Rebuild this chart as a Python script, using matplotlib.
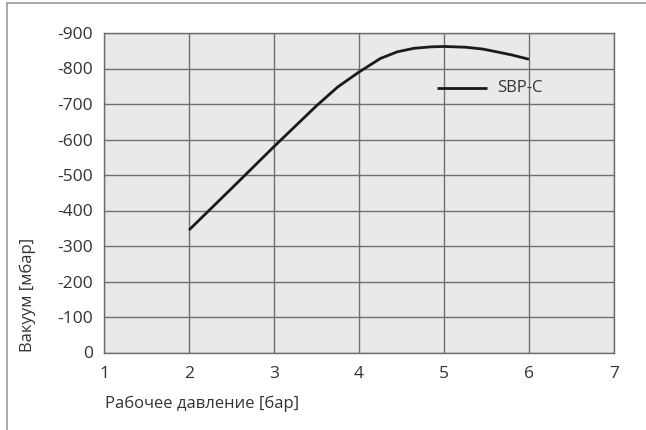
import matplotlib
matplotlib.use("Agg")
import matplotlib.pyplot as plt
from matplotlib.patches import Rectangle

# Data
pressure_bar = [2.0, 2.5, 3.0, 3.5, 3.75, 4.0, 4.25, 4.45, 4.65, 4.85, 5.0, 5.25, 5.45, 5.62, 5.8, 6.0]
vacuum_mbar = [-345, -462, -580, -695, -748, -790, -828, -847, -857, -861, -862, -860, -855, -847, -838, -826]
series_name = "SBP-C"
x_ticks = [1, 2, 3, 4, 5, 6, 7]
y_ticks = [0, -100, -200, -300, -400, -500, -600, -700, -800, -900]
x_label = "Рабочее давление [бар]"
y_label = "Вакуум [мбар]"

plt.rcParams['font.family'] = ['Open Sans', 'DejaVu Sans']

W, H = 646, 430
fig = plt.figure(figsize=(W / 100, H / 100), dpi=100)
fig.patch.set_facecolor("white")

# outer frame
fig.patches.append(Rectangle((7 / W, -0.01), 1.2, (H - 3) / H + 0.01, transform=fig.transFigure,
                             fill=False, edgecolor="#9a9a9a", linewidth=1.2))

ax = fig.add_axes([104 / W, 1 - 352.5 / H, (614 - 104) / W, (352.5 - 33) / H])
ax.set_facecolor("#e9e9e9")
ax.plot(pressure_bar, vacuum_mbar, color="#1a1a1a", linewidth=2.0,
        solid_capstyle="butt", solid_joinstyle="round")

ax.set_xlim(1, 7)
ax.set_ylim(0, -900)
ax.set_xticks(x_ticks)
ax.set_yticks(y_ticks)
ax.set_xticklabels([str(v) for v in x_ticks])
ax.set_yticklabels([str(v) for v in y_ticks])
ax.grid(True, color="#707070", linewidth=1.0)
ax.set_axisbelow(True)
for s in ax.spines.values():
    s.set_color("#6e6e6e")
    s.set_linewidth(1.0)
ax.tick_params(length=0, labelsize=12.5, colors="#333333", pad=8)
ax.tick_params(axis="x", pad=10)

# legend (line + label inside plot, as in the reference)
ax.plot([4.92, 5.5], [-745, -745], color="#1a1a1a", linewidth=2.0, solid_capstyle="butt")
ax.text(5.63, -745, series_name, fontsize=12, color="#333333", va="center", ha="left")

fig.text(105 / W, 1 - 404 / H, x_label, fontsize=12, color="#333333", va="center", ha="left")
fig.text(28 / W, 1 - 352 / H, y_label, fontsize=12, color="#333333", va="bottom", ha="center",
         rotation=90)

fig.savefig("out.png", dpi=100, facecolor="white")
